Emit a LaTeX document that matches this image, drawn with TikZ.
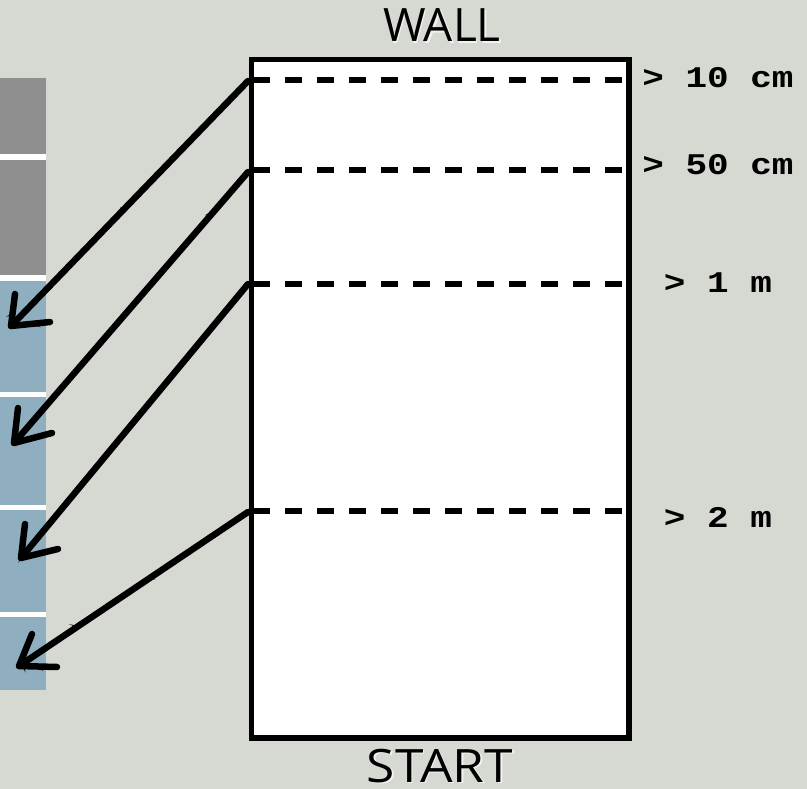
\documentclass[tikz,border=0pt]{standalone}
\usepackage{fontspec}
\setmainfont{Open Sans}
\newfontfamily\labelfont[FakeStretch=1.2]{Liberation Mono}
\usetikzlibrary{decorations.pathmorphing}
\definecolor{bgcol}{RGB}{214,217,210}
\definecolor{blockgray}{RGB}{143,143,143}
\definecolor{blockblue}{RGB}{143,175,192}
\tikzset{
  mark line/.style={line width=5.7pt, dash pattern=on 16.5pt off 15.5pt},
  distlabel/.style={font=\labelfont\bfseries\fontsize{30}{30}\selectfont, anchor=base, inner sep=0pt},
  endlabel/.style={font=\fontsize{46}{46}\selectfont, anchor=base, inner sep=0pt, text depth=0pt},
  glow/.style={endlabel, text=white, opacity=0.7},
  sketch/.style={line width=6.5pt, line cap=round, line join=round},
  rough/.style={line width=1.6pt, line cap=round, decorate,
    decoration={random steps, segment length=2pt, amplitude=1.6pt}},
}
\pgfmathsetseed{11}
\begin{document}
\begin{tikzpicture}[x=1pt, y=-1pt]
  % canvas
  \fill[bgcol] (0,0) rectangle (807,789);
  \useasboundingbox (0,0) rectangle (807,789);

  % stacked blocks on the left
  \fill[white] (0,78) rectangle (46,690);
  \fill[blockgray] (0,78) rectangle (46,154.5);
  \fill[blockgray] (0,160) rectangle (46,275.5);
  \fill[blockblue] (0,281) rectangle (46,392);
  \fill[blockblue] (0,396.5) rectangle (46,505);
  \fill[blockblue] (0,510) rectangle (46,612);
  \fill[blockblue] (0,616.5) rectangle (46,690);

  % corridor
  \node[draw, line width=5.7pt, fill=white, inner sep=0pt, minimum width=377.5pt,
        minimum height=678.5pt] (corr) at (440.25,398.75) {};
  \node[glow] at (443.5,43.5) {WALL};
  \node[endlabel] (wall) at (442,42) {WALL};
  \node[glow] at (441.5,783.5) {\scalebox{1.12}[1]{START}};
  \node[endlabel] (start) at (440,782) {\scalebox{1.12}[1]{START}};

  % distance marks
  \foreach \i/\y in {1/80, 2/170, 3/284, 4/511} {
    \coordinate (m\i) at (253,\y);
    \coordinate (e\i) at (626,\y);
    \draw[mark line] (m\i) -- (e\i);
  }
  \node[distlabel] (l1) at (718,88) {> 10 cm};
  \node[distlabel] (l2) at (718,175) {> 50 cm};
  \node[distlabel] (l3) at (718,292) {> 1 m};
  \node[distlabel] (l4) at (718,527) {> 2 m};

  % hand-drawn arrows from each mark to a block
  \coordinate (s1) at (248,81);
  \coordinate (s2) at (248,172);
  \coordinate (s3) at (248,284);
  \coordinate (s4) at (248,512);
  \coordinate (t1) at (11,326);   \coordinate (a1) at (15,294);  \coordinate (b1) at (50,322);
  \coordinate (t2) at (14,443);   \coordinate (a2) at (18,408);  \coordinate (b2) at (52,433);
  \coordinate (t3) at (21,558);   \coordinate (a3) at (25,524);  \coordinate (b3) at (58,549);
  \coordinate (t4) at (19,666);   \coordinate (a4) at (32,634);  \coordinate (b4) at (57,667);
  \foreach \i in {1,2,3,4} {
    \draw[sketch] (s\i) -- (t\i);
    \draw[sketch] (a\i) -- (t\i) -- (b\i);
    \draw[rough] (s\i) -- (t\i);
    \draw[rough] (a\i) -- (t\i) -- (b\i);
  }
\end{tikzpicture}
\end{document}
